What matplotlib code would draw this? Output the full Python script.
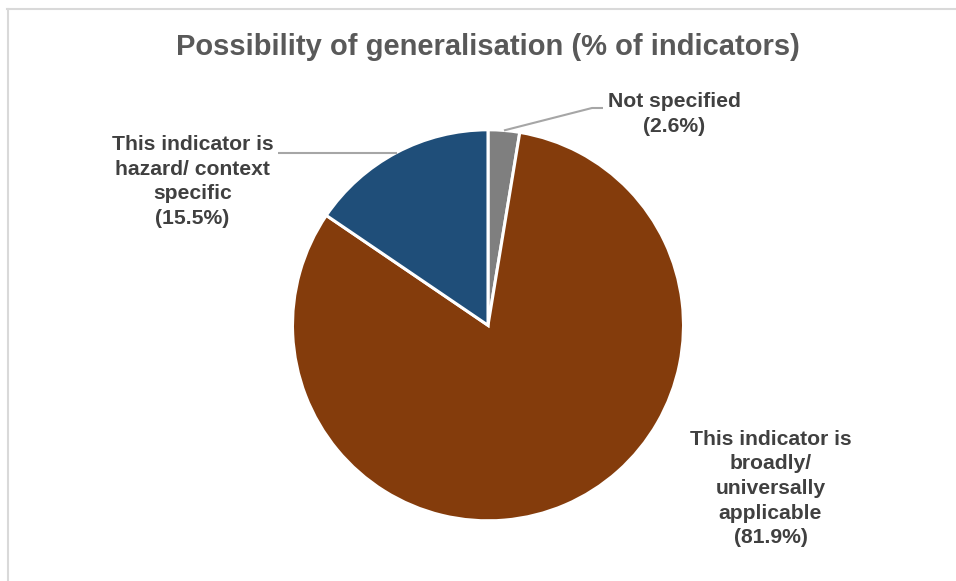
import matplotlib
matplotlib.use("Agg")
import matplotlib.pyplot as plt
import numpy as np
from matplotlib.lines import Line2D

# Data
categories = ["Not specified",
              "This indicator is\nbroadly/\nuniversally\napplicable",
              "This indicator is\nhazard/ context\nspecific"]
values = [2.6, 81.9, 15.5]
colors = ["#7f7f7f", "#843c0c", "#1f4e79"]
title = "Possibility of generalisation (% of indicators)"

W, H, DPI = 956, 581, 100
fig = plt.figure(figsize=(W / DPI, H / DPI), dpi=DPI)
plt.rcParams['font.family'] = ['Liberation Sans', 'DejaVu Sans']

cx, cy, R = 488.0, 325.3, 195.5  # pie centre / radius in pixels
ax = fig.add_axes([0, 0, 1, 1])
ax.axis("off")

wedges, _ = ax.pie(values, colors=colors, startangle=90, counterclock=False,
                   radius=1, center=(0, 0),
                   wedgeprops=dict(edgecolor="white", linewidth=2.2))
ax.set_aspect("auto")
ax.set_xlim(-cx / R, (W - cx) / R)
ax.set_ylim((cy - H) / R, cy / R)


def px(x, y):
    return ((x - cx) / R, (cy - y) / R)


def mid_point(w):
    a = np.deg2rad((w.theta1 + w.theta2) / 2)
    return np.cos(a), np.sin(a)


lab_col = "#404040"
line_col = "#a6a6a6"
fs = 15.2
ls = 1.38

# Not specified label
mx, my = mid_point(wedges[0])
p1 = px(592, 108); p2 = px(603, 108)
ax.plot([mx, p1[0], p2[0]], [my, p1[1], p2[1]], color=line_col, lw=1.5,
        solid_capstyle="butt")
tx, ty = px(674, 114)
ax.text(tx, ty, f"{categories[0]}\n({values[0]}%)", ha="center", va="center",
        fontsize=fs, fontweight="bold", color=lab_col, linespacing=ls)

# Broadly applicable label
tx, ty = px(770.5, 488.5)
ax.text(tx, ty, f"{categories[1]}\n({values[1]}%)", ha="center", va="center",
        fontsize=fs, fontweight="bold", color=lab_col, linespacing=ls)

# Hazard specific label
mx, my = mid_point(wedges[2])
p1 = px(278, 0)
ax.plot([mx, p1[0]], [my, my], color=line_col, lw=1.5, solid_capstyle="butt")
tx, ty = px(192.5, 181.5)
ax.text(tx, ty, f"{categories[2]}\n({values[2]}%)", ha="center", va="center",
        fontsize=fs, fontweight="bold", color=lab_col, linespacing=ls)

# Title
fig.text(488 / W, 1 - 47 / H, title, ha="center", va="center",
         fontsize=21, fontweight="bold", color="#595959")

# Chart-area border (left and top)
bc = "#d9d9d9"
fig.add_artist(Line2D([7.5 / W, 7.5 / W], [0, 1 - 8.5 / H], transform=fig.transFigure,
                      color=bc, lw=1.5))
fig.add_artist(Line2D([7 / W, 1], [1 - 8.5 / H, 1 - 8.5 / H], transform=fig.transFigure,
                      color=bc, lw=1.5))

fig.savefig("out.png", dpi=DPI)
